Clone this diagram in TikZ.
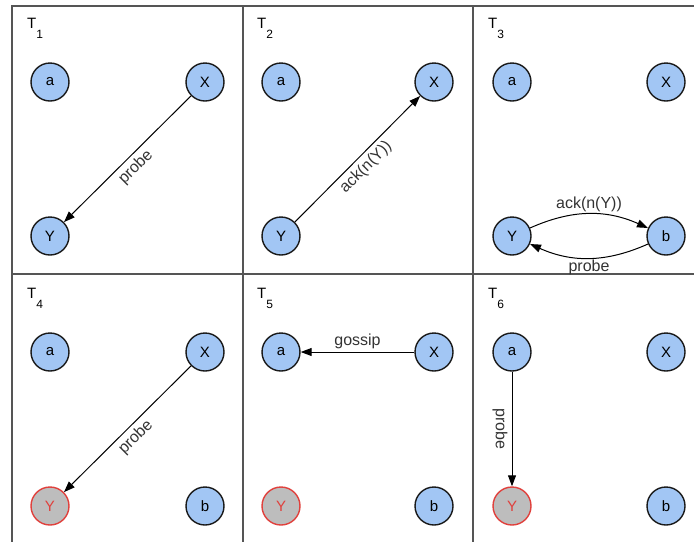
\documentclass[tikz,border=0pt]{standalone}
\usepackage{fontspec}
\setmainfont{Liberation Sans}
\usetikzlibrary{arrows.meta}
\definecolor{peerblue}{HTML}{A2C6F4}
\definecolor{deadfill}{HTML}{BDBDBD}
\definecolor{deadred}{HTML}{E0403C}
\definecolor{gridgray}{HTML}{555555}
\tikzset{
  peer/.style={circle, draw=black!90, line width=1.4pt, fill=peerblue,
    minimum size=38pt, inner sep=0pt, font=\fontsize{15}{15}\selectfont},
  deadpeer/.style={peer, draw=deadred, fill=deadfill, text=deadred},
  msg/.style={-{Triangle[length=11pt,width=8pt]}, line width=1pt, black},
  lbl/.style={font=\fontsize{16}{16}\selectfont, text=black!80, inner sep=4pt},
  slot/.style={anchor=base west, inner sep=0pt, font=\fontsize{15}{15}\selectfont},
  gridline/.style={draw=gridgray, line width=1.3pt}
}
\newcommand{\slotname}[1]{T\raisebox{-10pt}{\fontsize{12}{12}\selectfont #1}}
\begin{document}
\begin{tikzpicture}[x=1pt,y=-1pt]
\useasboundingbox (0,0) rectangle (694,542);
% frame of the six time slots
\draw[gridline] (694,6) -- (12,6) -- (12,542);
\draw[gridline] (12,274) -- (694,274);
\draw[gridline] (243,6) -- (243,542);
\draw[gridline] (473,6) -- (473,542);

% slot titles
\node[slot] (t1) at (27,28)  {\slotname{1}};
\node[slot] (t2) at (257,28) {\slotname{2}};
\node[slot] (t3) at (488,28) {\slotname{3}};
\node[slot] (t4) at (27,298)  {\slotname{4}};
\node[slot] (t5) at (257,298) {\slotname{5}};
\node[slot] (t6) at (488,298) {\slotname{6}};

% T1
\node[peer] (a1) at (50,82)  {a};
\node[peer] (x1) at (205,82) {X};
\node[peer] (y1) at (50,236) {Y};
\draw[msg] (x1) -- node[lbl, midway, sloped, below] {probe} (y1);

% T2
\node[peer] (a2) at (281,82)  {a};
\node[peer] (x2) at (434,82)  {X};
\node[peer] (y2) at (281,236) {Y};
\draw[msg] (y2) -- node[lbl, midway, sloped, below] {ack(n(Y))} (x2);

% T3
\node[peer] (a3) at (512,82)  {a};
\node[peer] (x3) at (666,82)  {X};
\node[peer] (y3) at (512,236) {Y};
\node[peer] (b3) at (666,236) {b};
\draw[msg] (y3) to[bend left=24] node[lbl, midway, above, inner sep=2pt] {ack(n(Y))} (b3);
\draw[msg] (b3) to[bend left=24] node[lbl, midway, below, inner sep=1pt] {probe} (y3);

% T4
\node[peer] (a4) at (50,352)  {a};
\node[peer] (x4) at (205,352) {X};
\node[deadpeer] (y4) at (50,506) {Y};
\node[peer] (b4) at (205,506) {b};
\draw[msg] (x4) -- node[lbl, midway, sloped, below] {probe} (y4);

% T5
\node[peer] (a5) at (281,352)  {a};
\node[peer] (x5) at (434,352)  {X};
\node[deadpeer] (y5) at (281,506) {Y};
\node[peer] (b5) at (434,506) {b};
\draw[msg] (x5) -- node[lbl, midway, above, inner sep=3pt] {gossip} (a5);

% T6
\node[peer] (a6) at (512,352)  {a};
\node[peer] (x6) at (666,352)  {X};
\node[deadpeer] (y6) at (512,506) {Y};
\node[peer] (b6) at (666,506) {b};
\draw[msg] (a6) -- node[lbl, midway, sloped, below] {probe} (y6);
\end{tikzpicture}
\end{document}
